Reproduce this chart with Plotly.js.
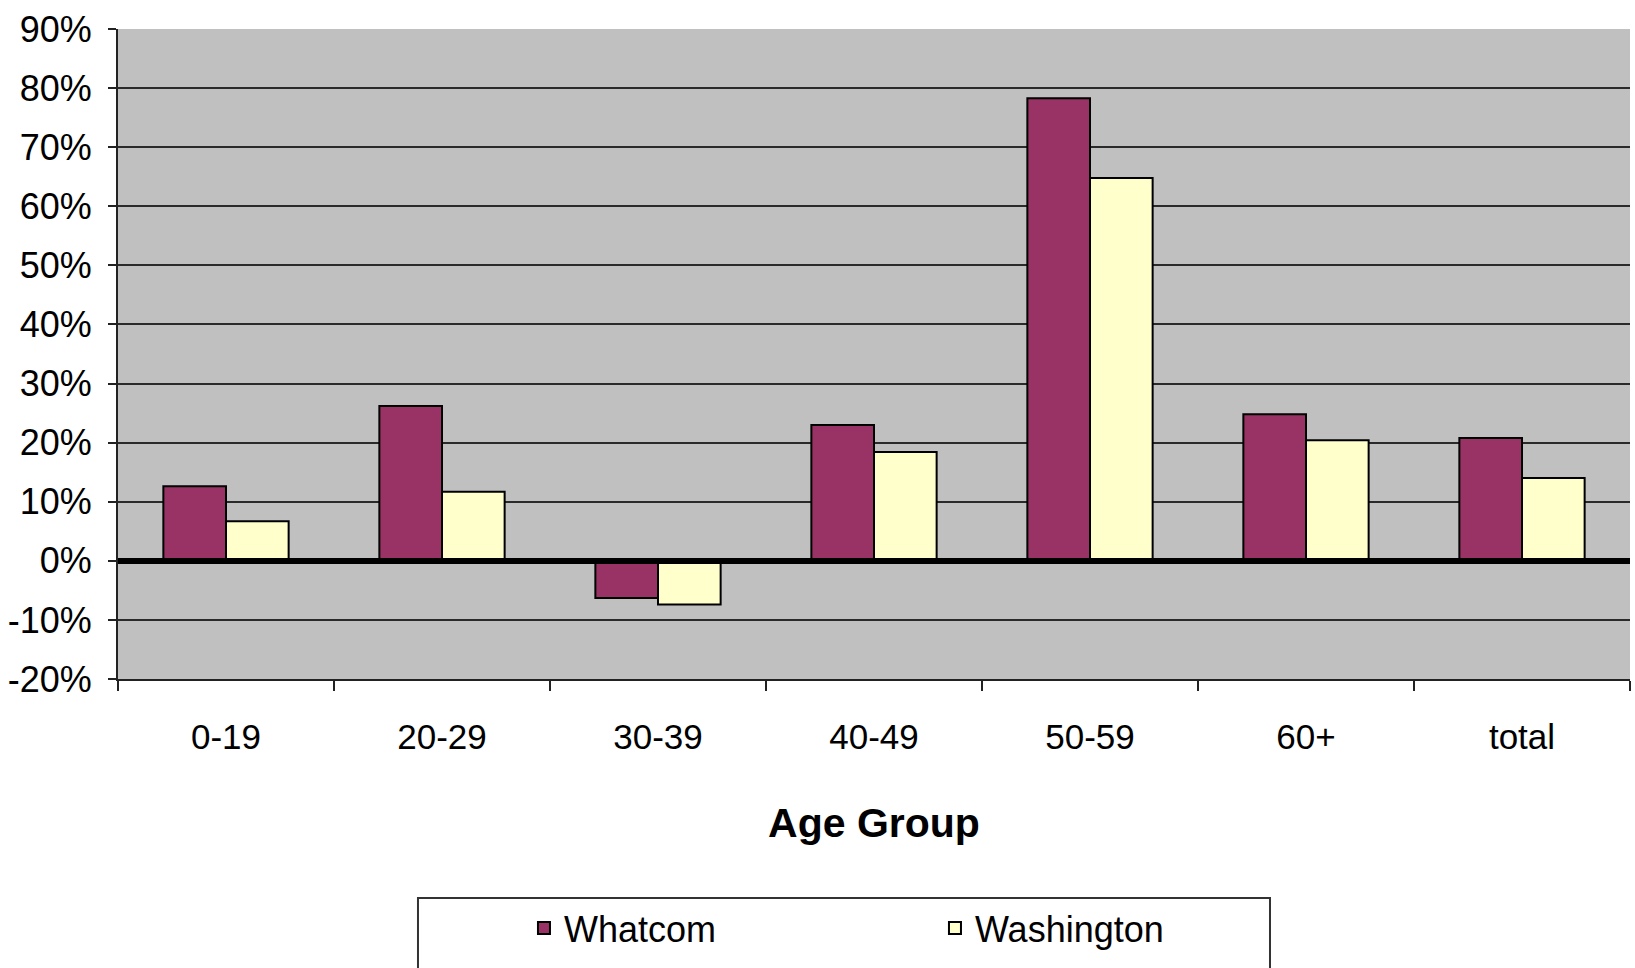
<!DOCTYPE html>
<html>
<head>
<meta charset="utf-8">
<script src="https://cdn.plot.ly/plotly-3.0.1.min.js"></script>
<style>
  html, body { margin: 0; padding: 0; background: #ffffff; }
  #chart { width: 1635px; height: 968px; }
</style>
</head>
<body>
<div id="chart"></div>
<script>
// ---- data ----
const categories = ['0-19', '20-29', '30-39', '40-49', '50-59', '60+', 'total'];
const whatcom    = [0.126, 0.262, -0.063, 0.230, 0.783, 0.248, 0.208];
const washington = [0.067, 0.117, -0.074, 0.184, 0.648, 0.204, 0.140];
const seriesNames = ['Whatcom', 'Washington'];
const yTickVals  = [-0.2, -0.1, 0, 0.1, 0.2, 0.3, 0.4, 0.5, 0.6, 0.7, 0.8, 0.9];
const yTickText  = ['-20%', '-10%', '0%', '10%', '20%', '30%', '40%', '50%', '60%', '70%', '80%', '90%'];
const xTitle = 'Age Group';

const FONT = '"Liberation Sans", Arial, sans-serif';

const traces = [
  {
    type: 'bar', name: seriesNames[0], x: categories, y: whatcom,
    marker: { color: '#993366', line: { color: '#000000', width: 2 } },
    hoverinfo: 'skip'
  },
  {
    type: 'bar', name: seriesNames[1], x: categories, y: washington,
    marker: { color: '#FFFFCC', line: { color: '#000000', width: 2 } },
    hoverinfo: 'skip'
  }
];

const layout = {
  width: 1635, height: 968,
  margin: { l: 118, r: 5, t: 29, b: 289, autoexpand: false },
  paper_bgcolor: '#ffffff',
  plot_bgcolor: '#c0c0c0',
  font: { family: FONT, color: '#000000', size: 35 },
  barmode: 'group',
  bargap: 0.42,
  bargroupgap: 0,
  showlegend: true,
  xaxis: {
    type: 'category',
    showgrid: false,
    showline: true, linecolor: '#222222', linewidth: 2,
    ticks: 'outside', tickson: 'boundaries', ticklen: 10, tickwidth: 2, tickcolor: '#222222',
    ticklabelstandoff: 26,
    tickfont: { family: FONT, size: 35, color: '#000000' },
    title: { text: xTitle, font: { family: FONT, size: 41, color: '#000000', weight: 'bold' }, standoff: 53 },
    automargin: false
  },
  yaxis: {
    range: [-0.2, 0.9],
    tickvals: yTickVals, ticktext: yTickText,
    showgrid: true, gridcolor: '#2a2a2a', gridwidth: 2,
    showline: true, linecolor: '#222222', linewidth: 2,
    ticks: 'outside', ticklen: 8, tickwidth: 2, tickcolor: '#222222',
    ticklabelstandoff: 9,
    zeroline: true, zerolinecolor: '#000000', zerolinewidth: 6,
    zerolinelayer: 'above traces',
    tickfont: { family: FONT, size: 36, color: '#000000' },
    automargin: false
  },
  legend: {
    orientation: 'h',
    x: 0.2685, xanchor: 'left',
    y: -0.337, yanchor: 'top',
    bgcolor: 'rgba(0,0,0,0)',
    borderwidth: 0,
    font: { family: FONT, size: 36, color: '#000000' },
    entrywidth: 366, entrywidthmode: 'pixels',
    traceorder: 'normal'
  },
  shapes: [
    {
      type: 'rect', xref: 'paper', yref: 'paper',
      x0: 0.1984, x1: 0.7619, y0: -0.337, y1: -0.47,
      line: { color: '#333333', width: 2 }, fillcolor: 'rgba(255,255,255,0)',
      layer: 'below'
    }
  ]
};

Plotly.newPlot('chart', traces, layout, { staticPlot: true, displayModeBar: false });
</script>
</body>
</html>
